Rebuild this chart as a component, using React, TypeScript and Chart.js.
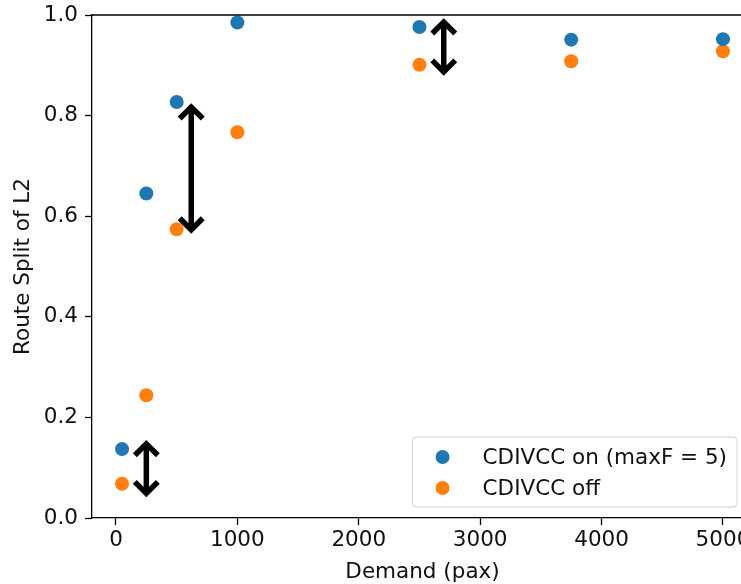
import React, { useEffect, useRef } from "react";
import { Chart, registerables } from "chart.js";

Chart.register(...registerables);

const demand = [50, 250, 500, 1000, 2500, 3750, 5000];
const splitOn = [0.137, 0.645, 0.827, 0.985, 0.976, 0.951, 0.952];
const splitOff = [0.068, 0.244, 0.574, 0.767, 0.901, 0.908, 0.928];
const seriesLabels = ["CDIVCC on (maxF = 5)", "CDIVCC off"];
const seriesColors = ["#1f77b4", "#ff7f0e"];
const xTicks = [0, 1000, 2000, 3000, 4000, 5000];
const yTicks = [0, 0.2, 0.4, 0.6, 0.8, 1.0];
const arrowX = [250, 620, 2700];
const arrowLow = [0.049, 0.573, 0.887];
const arrowHigh = [0.1475, 0.817, 0.986];

const FONT = "'DejaVu Sans', sans-serif";
const FSIZE = 21.5;
const TEXT = "#111";

const extrasPlugin = {
  id: "extras",
  afterDatasetsDraw(chart: any) {
    const { ctx } = chart;
    const xs = chart.scales.x;
    const ys = chart.scales.y;
    ctx.save();
    ctx.strokeStyle = "#000";
    ctx.lineWidth = 5.5;
    ctx.lineJoin = "miter";
    ctx.lineCap = "butt";
    const h = 11.5;
    arrowX.forEach((ax, i) => {
      const px = xs.getPixelForValue(ax);
      const top = ys.getPixelForValue(arrowHigh[i]);
      const bot = ys.getPixelForValue(arrowLow[i]);
      ctx.beginPath();
      ctx.moveTo(px, top);
      ctx.lineTo(px, bot);
      ctx.stroke();
      ctx.beginPath();
      ctx.moveTo(px - h, top + h);
      ctx.lineTo(px, top);
      ctx.lineTo(px + h, top + h);
      ctx.stroke();
      ctx.beginPath();
      ctx.moveTo(px - h, bot - h);
      ctx.lineTo(px, bot);
      ctx.lineTo(px + h, bot - h);
      ctx.stroke();
    });
    ctx.restore();
  },
  afterDraw(chart: any) {
    const { ctx, chartArea } = chart;
    ctx.save();
    // top spine
    ctx.strokeStyle = "#000";
    ctx.lineWidth = 1.3;
    ctx.beginPath();
    ctx.moveTo(chartArea.left, chartArea.top);
    ctx.lineTo(chartArea.right, chartArea.top);
    ctx.stroke();

    // legend
    ctx.font = `${FSIZE}px ${FONT}`;
    const maxW = Math.max(...seriesLabels.map((s) => ctx.measureText(s).width));
    const boxW = 70 + maxW + 10;
    const boxH = 70;
    const right = chartArea.right - 16;
    const bottom = chartArea.bottom - 11;
    const left = right - boxW;
    const top = bottom - boxH;
    ctx.beginPath();
    (ctx as any).roundRect(left, top, boxW, boxH, 4);
    ctx.fillStyle = "rgba(255,255,255,0.8)";
    ctx.fill();
    ctx.strokeStyle = "#d0d0d0";
    ctx.lineWidth = 1;
    ctx.stroke();
    seriesLabels.forEach((lab, i) => {
      const cy = top + 20 + i * 31;
      ctx.beginPath();
      ctx.arc(left + 30, cy, 7, 0, Math.PI * 2);
      ctx.fillStyle = seriesColors[i];
      ctx.fill();
      ctx.fillStyle = TEXT;
      ctx.textBaseline = "middle";
      ctx.textAlign = "left";
      ctx.fillText(lab, left + 70, cy + 1);
    });
    ctx.restore();
  },
};

export default function App() {
  const ref = useRef<HTMLCanvasElement | null>(null);
  useEffect(() => {
    if (!ref.current) return;
    const chart = new Chart(ref.current, {
      type: "scatter",
      data: {
        datasets: [
          {
            label: seriesLabels[0],
            data: demand.map((d, i) => ({ x: d, y: splitOn[i] })),
            backgroundColor: seriesColors[0],
            borderWidth: 0,
            pointRadius: 7,
          },
          {
            label: seriesLabels[1],
            data: demand.map((d, i) => ({ x: d, y: splitOff[i] })),
            backgroundColor: seriesColors[1],
            borderWidth: 0,
            pointRadius: 7,
          },
        ],
      },
      options: {
        responsive: false,
        maintainAspectRatio: false,
        devicePixelRatio: 1,
        animation: false,
        layout: { padding: { top: 15, right: 7, left: 0, bottom: 0 } },
        plugins: {
          legend: { display: false },
          tooltip: { enabled: false },
        },
        scales: {
          x: {
            type: "linear",
            min: -197.5,
            max: 5247.5,
            afterBuildTicks: (s: any) => {
              s.ticks = xTicks.map((v) => ({ value: v }));
            },
            afterFit: (s: any) => {
              s.height = 66;
              s.paddingLeft = 0;
              s.paddingRight = 0;
            },
            grid: {
              drawOnChartArea: false,
              drawTicks: true,
              tickLength: 7,
              tickColor: "#000",
              tickWidth: 1.3,
            },
            border: { display: true, color: "#000", width: 1.3 },
            ticks: {
              color: TEXT,
              font: { family: FONT, size: FSIZE },
              padding: 3,
              maxRotation: 0,
              autoSkip: false,
              callback: (v: any) => String(v),
            },
            title: {
              display: true,
              text: "Demand (pax)",
              color: TEXT,
              font: { family: FONT, size: FSIZE },
              padding: { top: 0, bottom: -1 },
            },
          },
          y: {
            type: "linear",
            min: 0,
            max: 1,
            afterBuildTicks: (s: any) => {
              s.ticks = yTicks.map((v) => ({ value: v }));
            },
            afterFit: (s: any) => {
              s.width = 92;
              s.paddingTop = 0;
              s.paddingBottom = 0;
            },
            grid: {
              drawOnChartArea: false,
              drawTicks: true,
              tickLength: 7,
              tickColor: "#000",
              tickWidth: 1.3,
            },
            border: { display: true, color: "#000", width: 1.3 },
            ticks: {
              color: TEXT,
              font: { family: FONT, size: FSIZE },
              padding: 7,
              autoSkip: false,
              callback: (v: any) => Number(v).toFixed(1),
            },
            title: {
              display: true,
              text: "Route Split of L2",
              color: TEXT,
              font: { family: FONT, size: FSIZE },
              padding: { top: 11, bottom: 0 },
            },
          },
        },
      },
      plugins: [extrasPlugin],
    });
    return () => chart.destroy();
  }, []);
  return (
    <div
      style={{
        position: "fixed",
        left: 0,
        top: 0,
        width: 741,
        height: 584,
        overflow: "hidden",
        background: "#fff",
      }}
    >
      <canvas ref={ref} width={760} height={584} style={{ display: "block" }} />
    </div>
  );
}
